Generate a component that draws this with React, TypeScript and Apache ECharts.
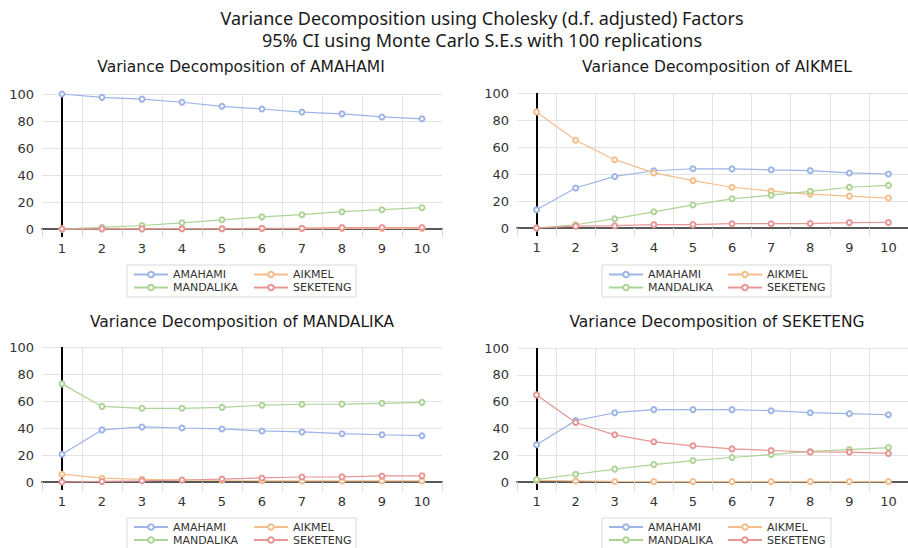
import React, { useEffect, useRef } from 'react';
import * as echarts from 'echarts';

const periods = ['1', '2', '3', '4', '5', '6', '7', '8', '9', '10'];
const seriesNames = ['AMAHAMI', 'AIKMEL', 'MANDALIKA', 'SEKETENG'];
const mainTitle1 = 'Variance Decomposition using Cholesky (d.f. adjusted) Factors';
const mainTitle2 = '95% CI using Monte Carlo S.E.s with 100 replications';
const panelTitles = [
  'Variance Decomposition of AMAHAMI',
  'Variance Decomposition of AIKMEL',
  'Variance Decomposition of MANDALIKA',
  'Variance Decomposition of SEKETENG',
];

// Panel 1: Variance Decomposition of AMAHAMI
const p1Amahami = [100, 97.5, 96.2, 93.9, 90.9, 88.9, 86.6, 85.3, 83.0, 81.6];
const p1Aikmel = [0, 0.2, 0.2, 0.2, 0.2, 0.3, 0.3, 0.4, 0.4, 0.4];
const p1Mandalika = [0, 1.2, 2.6, 4.6, 6.8, 9.0, 10.6, 12.8, 14.3, 15.8];
const p1Seketeng = [0, 0.1, 0.1, 0.2, 0.2, 0.5, 0.6, 1.0, 1.1, 1.1];

// Panel 2: Variance Decomposition of AIKMEL
const p2Amahami = [13.5, 29.6, 38.2, 42.4, 43.9, 43.8, 43.1, 42.5, 40.8, 40.0];
const p2Aikmel = [86.0, 65.0, 50.6, 40.8, 35.1, 30.2, 27.3, 25.1, 23.6, 22.2];
const p2Mandalika = [0, 2.4, 6.9, 12.0, 17.1, 21.6, 24.3, 27.2, 30.2, 31.6];
const p2Seketeng = [0, 1.4, 1.7, 2.5, 2.5, 3.2, 3.2, 3.3, 4.0, 4.1];

// Panel 3: Variance Decomposition of MANDALIKA
const p3Amahami = [20.5, 38.6, 40.8, 40.0, 39.3, 37.8, 37.1, 35.8, 35.0, 34.3];
const p3Aikmel = [5.8, 2.8, 2.0, 1.5, 1.1, 0.9, 0.8, 0.8, 0.8, 0.8];
const p3Mandalika = [72.7, 56.0, 54.6, 54.6, 55.3, 56.9, 57.6, 57.7, 58.3, 59.0];
const p3Seketeng = [0, 0.4, 0.9, 1.5, 2.2, 3.0, 3.7, 3.8, 4.5, 4.6];

// Panel 4: Variance Decomposition of SEKETENG
const p4Amahami = [27.8, 45.8, 51.7, 54.0, 54.0, 54.0, 53.2, 51.7, 51.0, 50.2];
const p4Aikmel = [1.2, 0.8, 0.4, 0.3, 0.3, 0.3, 0.3, 0.3, 0.3, 0.3];
const p4Mandalika = [1.8, 5.8, 9.6, 13.0, 16.0, 18.3, 20.5, 22.8, 24.2, 25.7];
const p4Seketeng = [65.0, 44.4, 35.2, 30.0, 27.0, 24.7, 23.5, 22.4, 22.3, 21.3];

const yTicks = [0, 20, 40, 60, 80, 100];

const panelData = [
  [p1Amahami, p1Aikmel, p1Mandalika, p1Seketeng],
  [p2Amahami, p2Aikmel, p2Mandalika, p2Seketeng],
  [p3Amahami, p3Aikmel, p3Mandalika, p3Seketeng],
  [p4Amahami, p4Aikmel, p4Mandalika, p4Seketeng],
];

const colors = ['#9DB4E6', '#F4BE8C', '#ADD496', '#E79595'];

const grids = [
  { left: 42, top: 94, width: 400, height: 135 },
  { left: 517, top: 93, width: 400, height: 135 },
  { left: 42, top: 347, width: 400, height: 135 },
  { left: 517, top: 348, width: 400, height: 134 },
];
const titlePos = [
  [241, 67],
  [717, 67],
  [242, 322],
  [717, 322],
];
const legendPos = [
  { l: 133, r: 253, top: 268, box: [127, 265] },
  { l: 608, r: 727, top: 268, box: [602, 265] },
  { l: 133, r: 253, top: 520.5, box: [127, 518] },
  { l: 608, r: 727, top: 520.5, box: [602, 518] },
];

const FONT = 'DejaVu Sans, Verdana, sans-serif';

export default function App() {
  const ref = useRef<HTMLDivElement>(null);
  useEffect(() => {
    document.body.style.margin = '0';
    if (!ref.current) return;
    const chart = echarts.init(ref.current, null, { renderer: 'svg' });

    const xAxis: any[] = [];
    const yAxis: any[] = [];
    const series: any[] = [];
    const legend: any[] = [];
    const titleFont = '18px "Noto Sans", sans-serif';
    const graphic: any[] = [
      {
        type: 'text',
        x: 482,
        y: 18,
        style: { text: mainTitle1, font: titleFont, fill: '#1a1a1a', textAlign: 'center', textVerticalAlign: 'middle' },
      },
      {
        type: 'text',
        x: 482,
        y: 40,
        style: { text: mainTitle2, font: titleFont, fill: '#1a1a1a', textAlign: 'center', textVerticalAlign: 'middle' },
      },
    ];

    grids.forEach((g, i) => {
      xAxis.push({
        type: 'category',
        gridIndex: i,
        data: periods,
        boundaryGap: true,
        axisLine: { show: true, lineStyle: { color: '#595959', width: 2 } },
        axisTick: { show: true, length: 9, lineStyle: { color: '#dcdcdc', width: 1 } },
        splitLine: { show: true, showMinLine: false, showMaxLine: false, lineStyle: { color: '#e3e3e3', width: 1 } },
        axisLabel: { margin: 13, fontSize: 13, color: '#333', fontFamily: FONT },
        z: 3,
      });
      yAxis.push({
        type: 'value',
        gridIndex: i,
        min: yTicks[0],
        max: yTicks[yTicks.length - 1],
        interval: 20,
        axisLine: { show: false },
        axisTick: { show: false },
        splitLine: { show: true, lineStyle: { color: '#e3e3e3', width: 1 } },
        axisLabel: { margin: 8, fontSize: 13, color: '#333', fontFamily: FONT },
      });
    });
    // overlay axes: black tick under category "1" (continuation of vertical axis line)
    grids.forEach((g, i) => {
      xAxis.push({
        type: 'category',
        gridIndex: i,
        position: 'bottom',
        data: periods,
        boundaryGap: true,
        axisLine: { show: false },
        axisTick: {
          show: true,
          alignWithLabel: true,
          length: 8,
          interval: (idx: number) => idx === 0,
          lineStyle: { color: '#000', width: 2 },
        },
        axisLabel: { show: false },
        splitLine: { show: false },
        z: 4,
      });
    });

    grids.forEach((g, i) => {
      seriesNames.forEach((name, s) => {
        const item: any = {
          type: 'line',
          name,
          xAxisIndex: i,
          yAxisIndex: i,
          data: panelData[i][s],
          symbol: 'emptyCircle',
          symbolSize: 5,
          showSymbol: true,
          clip: false,
          color: colors[s],
          lineStyle: { width: 1.2, color: colors[s] },
          itemStyle: { color: colors[s], borderWidth: 1.3 },
          z: 5,
        };
        if (s === 0) {
          item.markLine = {
            silent: true,
            symbol: 'none',
            label: { show: false },
            lineStyle: { color: '#000', width: 2, type: 'solid' },
            data: [[{ coord: ['1', 100] }, { coord: ['1', 0] }]],
          };
        }
        series.push(item);
      });

      graphic.push({
        type: 'text',
        x: titlePos[i][0],
        y: titlePos[i][1],
        style: { text: panelTitles[i], font: '15.5px ' + FONT, fill: '#1a1a1a', textAlign: 'center', textVerticalAlign: 'middle' },
      });

      const lp = legendPos[i];
      graphic.push({
        type: 'rect',
        shape: { x: lp.box[0], y: lp.box[1], width: 229, height: 32 },
        style: { fill: 'none', stroke: '#d9d9d9', lineWidth: 1 },
        z: 0,
      });
      const legendCommon = {
        orient: 'vertical',
        top: lp.top,
        height: 40,
        width: 110,
        itemGap: 0,
        itemWidth: 34,
        itemHeight: 7,
        padding: 0,
        selectedMode: false,
        textStyle: { fontSize: 11, lineHeight: 13, color: '#333', fontFamily: FONT },
      };
      legend.push({ ...legendCommon, left: lp.l, data: ['AMAHAMI', 'MANDALIKA'] });
      legend.push({ ...legendCommon, left: lp.r, data: ['AIKMEL', 'SEKETENG'] });
    });

    chart.setOption({
      animation: false,
      backgroundColor: '#ffffff',
      grid: grids.map((g) => ({ ...g, containLabel: false })),
      xAxis,
      yAxis,
      series,
      legend,
      graphic,
    });

    return () => {
      chart.dispose();
    };
  }, []);

  return <div ref={ref} style={{ width: 908, height: 548 }} />;
}
